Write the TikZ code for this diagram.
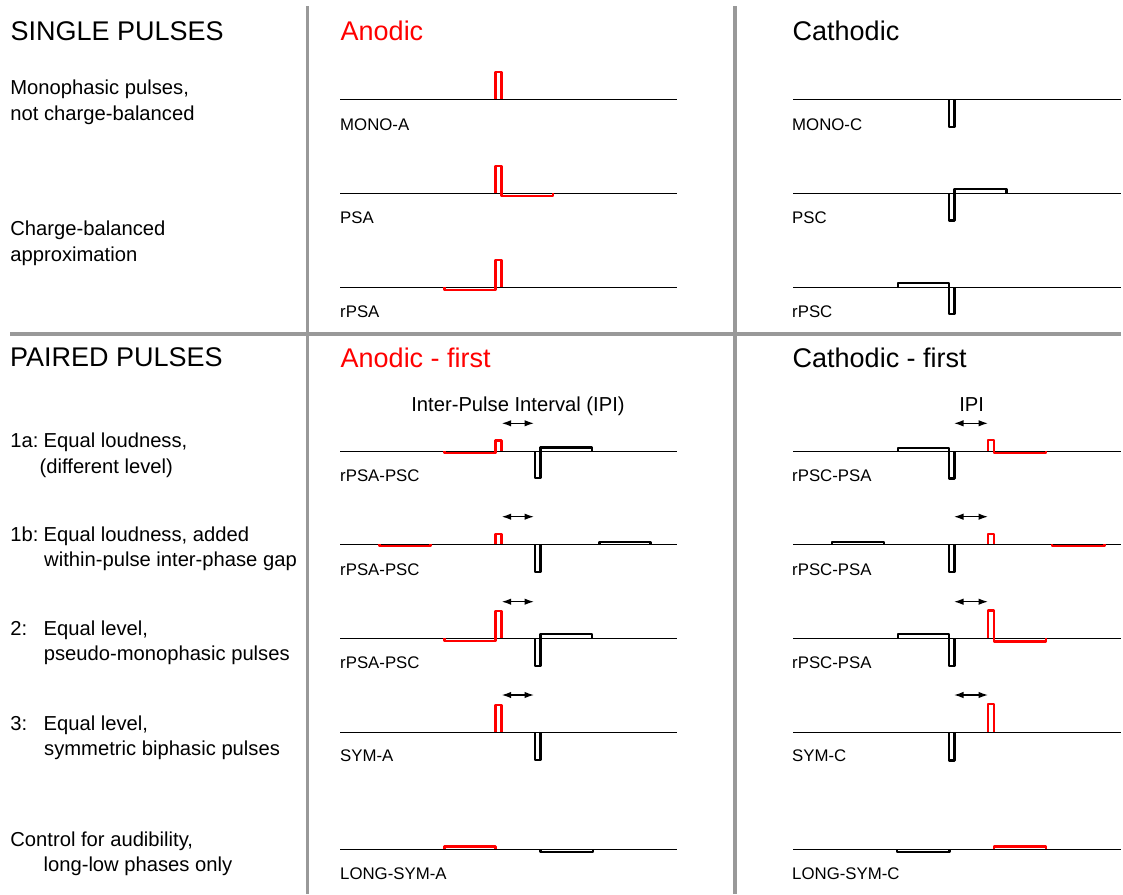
\documentclass[tikz,border=0pt]{standalone}
\usepackage{fontspec}
\setmainfont{Liberation Sans}
\usetikzlibrary{arrows.meta}
\definecolor{rulegray}{RGB}{153,153,153}
\definecolor{pred}{RGB}{255,0,0}
\tikzset{
  grayrule/.style={draw=rulegray, line width=3.5pt},
  baseln/.style={draw=black, line width=1.1pt},
  apulse/.style={draw=pred, line width=2.3pt, line join=round},
  cpulse/.style={draw=black, line width=2.3pt, line join=round},
  ipiarrow/.style={draw=black, line width=1.3pt, {Latex[length=9.5pt,width=6.5pt]}-{Latex[length=9.5pt,width=6.5pt]}},
  hdr/.style={anchor=base west, inner sep=0pt, font=\fontsize{27}{31}\selectfont},
  desc/.style={anchor=base west, inner sep=0pt, font=\fontsize{20.2}{24}\selectfont},
  wlab/.style={anchor=base west, inner sep=0pt, font=\fontsize{16.8}{20}\selectfont},
}
\begin{document}
\begin{tikzpicture}[x=1pt,y=-1pt]
\useasboundingbox[fill=white] (0,0) rectangle (1123,894);

% grid rules
\draw[grayrule] (307.3,6) -- (307.3,894);
\draw[grayrule] (735,6) -- (735,894);
\draw[grayrule] (10,334) -- (1121,334);

% headers
\node[hdr] (hsingle) at (10.3,40) {SINGLE PULSES};
\node[hdr, text=pred] (hanod) at (340.5,40.5) {Anodic};
\node[hdr] (hcath) at (792.5,40.5) {Cathodic};
\node[hdr] (hpaired) at (9.8,366.7) {PAIRED PULSES};
\node[hdr, text=pred] (hanodf) at (340.5,367) {Anodic - first};
\node[hdr] (hcathf) at (792.5,367) {Cathodic - first};

% left descriptions
\node[desc] (d1a) at (10.2,94.3) {Monophasic pulses,};
\node[desc] (d1b) at (10.2,120.3) {not charge-balanced};
\node[desc] (d2a) at (10.2,235) {Charge-balanced};
\node[desc] (d2b) at (10.2,261) {approximation};

\node[desc] (p1an) at (10.2,447.3) {1a:};
\node[desc] (p1at) at (43.4,447.3) {Equal loudness,};
\node[desc] (p1ab) at (39.5,473) {(different level)};
\node[desc] (p1bn) at (10.2,541.7) {1b:};
\node[desc] (p1bt) at (43.4,541.7) {Equal loudness, added};
\node[desc] (p1bb) at (44,566.7) {within-pulse inter-phase gap};
\node[desc] (p2n) at (10.2,635.5) {2:};
\node[desc] (p2t) at (43.4,635.5) {Equal level,};
\node[desc] (p2b) at (43.6,660.5) {pseudo-monophasic pulses};
\node[desc] (p3n) at (10.2,730.5) {3:};
\node[desc] (p3t) at (43.4,730.5) {Equal level,};
\node[desc] (p3b) at (44,755.5) {symmetric biphasic pulses};
\node[desc] (pca) at (10.2,846.5) {Control for audibility,};
\node[desc] (pcb) at (43.4,871.5) {long-low phases only};

% IPI labels
\node[desc, anchor=base] (ipitext) at (518,411.7) {Inter-Pulse Interval (IPI)};
\node[desc, anchor=base] (ipitextc) at (971.7,411.7) {IPI};

% ===== baselines =====
\foreach \yy in {99.3,193.3,287.3,451.2,544.3,638.3,732.3,849.3}{
  \draw[baseln] (340,\yy) -- (677,\yy);
  \draw[baseln] (793,\yy) -- (1121,\yy);
}

% ===== waveform labels =====
\node[wlab] (lmonoa) at (340,130.7) {MONO-A};
\node[wlab] (lpsa) at (340,223.3) {PSA};
\node[wlab] (lrpsa) at (340,317.3) {rPSA};
\node[wlab] (lmonoc) at (792,130.7) {MONO-C};
\node[wlab] (lpsc) at (792,223.3) {PSC};
\node[wlab] (lrpsc) at (792,317.3) {rPSC};
\node[wlab] (la1a) at (340,481.7) {rPSA-PSC};
\node[wlab] (la1b) at (340,575) {rPSA-PSC};
\node[wlab] (la2) at (340,668.3) {rPSA-PSC};
\node[wlab] (la3) at (340,761.7) {SYM-A};
\node[wlab] (lalong) at (340,879.3) {LONG-SYM-A};
\node[wlab] (lc1a) at (792,481.7) {rPSC-PSA};
\node[wlab] (lc1b) at (792,575) {rPSC-PSA};
\node[wlab] (lc2) at (792,668.3) {rPSC-PSA};
\node[wlab] (lc3) at (792,761.7) {SYM-C};
\node[wlab] (lclong) at (792,879.3) {LONG-SYM-C};

% ===== single pulses, anodic =====
\draw[apulse] (495.5,99.3) -- (495.5,72.2) -- (501.5,72.2) -- (501.5,99.3);
\draw[apulse] (495.5,193.3) -- (495.5,166.2) -- (501.5,166.2) -- (501.5,196) -- (553,196) -- (553,193.3);
\draw[apulse] (444.5,287.3) -- (444.5,290) -- (495.5,290) -- (495.5,259.8) -- (501.5,259.8) -- (501.5,287.3);

% ===== single pulses, cathodic =====
\draw[cpulse] (948.8,99.3) -- (948.8,127.1) -- (954.6,127.1) -- (954.6,99.3);
\draw[cpulse] (948.8,193.3) -- (948.8,220.5) -- (954.6,220.5) -- (954.6,189.2) -- (1006.5,189.2) -- (1006.5,193.3);
\draw[cpulse] (897.9,287.3) -- (897.9,283.3) -- (948.8,283.3) -- (948.8,313.8) -- (954.6,313.8) -- (954.6,287.3);

% ===== paired, anodic-first =====
% 1a
\draw[apulse] (444.5,451.2) -- (444.5,452.7) -- (495.5,452.7) -- (495.5,440.5) -- (501.5,440.5) -- (501.5,451.2);
\draw[cpulse] (535.2,451.2) -- (535.2,478.1) -- (540.5,478.1) -- (540.5,447.6) -- (592.2,447.6) -- (592.2,451.2);
% 1b
\draw[apulse] (379.5,544.3) -- (379.5,545.8) -- (430.5,545.8) -- (430.5,544.3);
\draw[apulse] (495.5,544.3) -- (495.5,533.9) -- (501.5,533.9) -- (501.5,544.3);
\draw[cpulse] (535.2,544.3) -- (535.2,572.1) -- (540.5,572.1) -- (540.5,544.3);
\draw[cpulse] (599.5,544.3) -- (599.5,541.7) -- (650.5,541.7) -- (650.5,544.3);
% 2
\draw[apulse] (444.5,638.3) -- (444.5,640.8) -- (495.5,640.8) -- (495.5,611.2) -- (501.5,611.2) -- (501.5,638.3);
\draw[cpulse] (535.2,638.3) -- (535.2,666.1) -- (540.5,666.1) -- (540.5,634.2) -- (592.2,634.2) -- (592.2,638.3);
% 3
\draw[apulse] (495.5,732.3) -- (495.5,705.2) -- (501.5,705.2) -- (501.5,732.3);
\draw[cpulse] (535.2,732.3) -- (535.2,759.8) -- (540.5,759.8) -- (540.5,732.3);
% long
\draw[apulse] (444.5,849.3) -- (444.5,846.6) -- (495.5,846.6) -- (495.5,849.3);
\draw[cpulse] (540.5,849.3) -- (540.5,852) -- (592.8,852) -- (592.8,849.3);

% ===== paired, cathodic-first =====
% 1a
\draw[cpulse] (897.9,451.2) -- (897.9,447.8) -- (948.8,447.8) -- (948.8,478.6) -- (954.6,478.6) -- (954.6,451.2);
\draw[apulse] (987.8,451.2) -- (987.8,440) -- (993.8,440) -- (993.8,452.7) -- (1046,452.7) -- (1046,451.2);
% 1b
\draw[cpulse] (832.2,544.3) -- (832.2,541.7) -- (884.1,541.7) -- (884.1,544.3);
\draw[cpulse] (948.8,544.3) -- (948.8,572.1) -- (954.6,572.1) -- (954.6,544.3);
\draw[apulse] (987.8,544.3) -- (987.8,533.9) -- (993.8,533.9) -- (993.8,544.3);
\draw[apulse] (1052.2,544.3) -- (1052.2,545.7) -- (1104.5,545.7) -- (1104.5,544.3);
% 2
\draw[cpulse] (897.9,638.3) -- (897.9,634.2) -- (948.8,634.2) -- (948.8,666.1) -- (954.6,666.1) -- (954.6,638.3);
\draw[apulse] (987.8,638.3) -- (987.8,610.5) -- (993.8,610.5) -- (993.8,641.5) -- (1046,641.5) -- (1046,638.3);
% 3
\draw[cpulse] (948.8,732.3) -- (948.8,760.5) -- (954.6,760.5) -- (954.6,732.3);
\draw[apulse] (987.8,732.3) -- (987.8,703.9) -- (993.8,703.9) -- (993.8,732.3);
% long
\draw[cpulse] (897,849.3) -- (897,852) -- (949.5,852) -- (949.5,849.3);
\draw[apulse] (994,849.3) -- (994,846.6) -- (1046,846.6) -- (1046,849.3);

% ===== IPI arrows =====
\foreach \nm/\yy in {a/423.3,b/516.7,c/601.7,d/695}{
  \coordinate (ipiAL\nm) at (501.7,\yy);
  \coordinate (ipiAR\nm) at (534,\yy);
  \coordinate (ipiCL\nm) at (954,\yy);
  \coordinate (ipiCR\nm) at (988,\yy);
  \draw[ipiarrow] (ipiAL\nm) -- (ipiAR\nm);
  \draw[ipiarrow] (ipiCL\nm) -- (ipiCR\nm);
}
\end{tikzpicture}
\end{document}
